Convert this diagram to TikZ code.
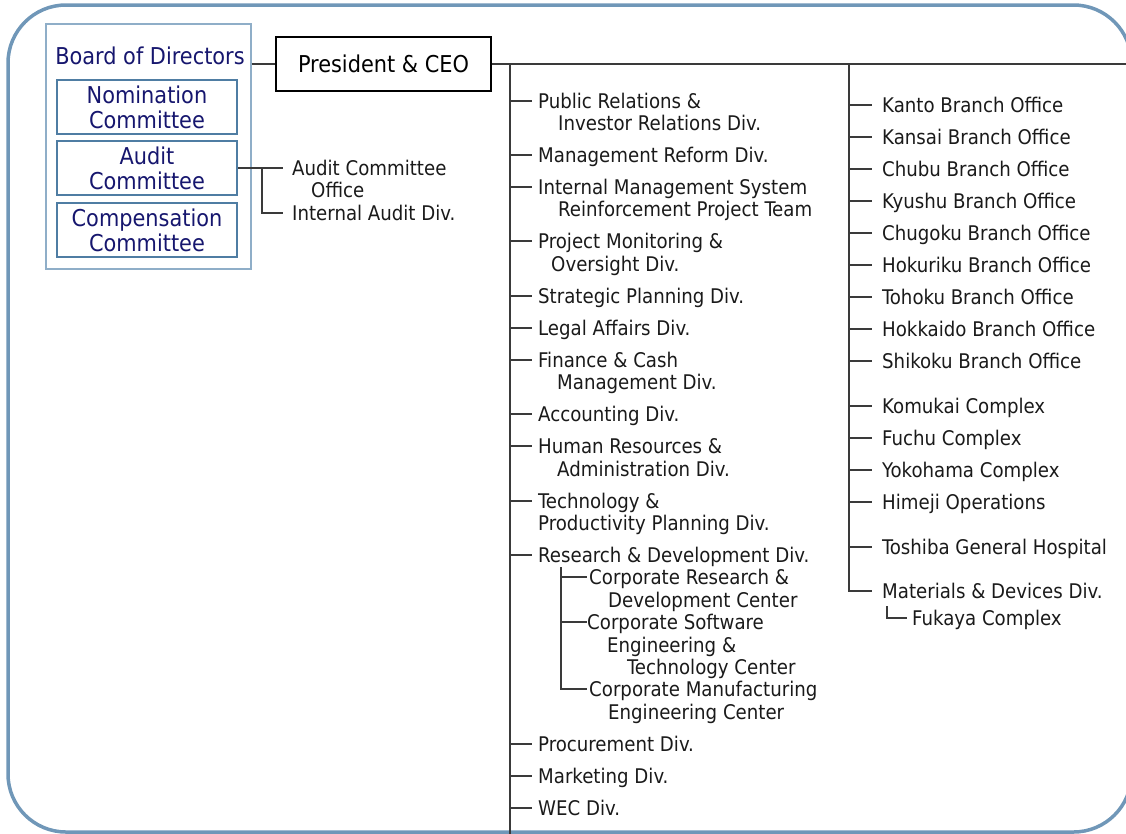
\documentclass[tikz,border=0pt]{standalone}
\usepackage{fontspec}
\setmainfont{DejaVu Sans Condensed}
\definecolor{cBorder}{HTML}{7097B8}
\definecolor{cOuter}{HTML}{8FAEC8}
\definecolor{cCbox}{HTML}{4F7DA3}
\definecolor{cNavy}{HTML}{16166E}
\definecolor{cTxt}{HTML}{1A1A1A}
\definecolor{cLink}{HTML}{3A3A3A}
\tikzset{
  itm/.style={anchor=west, inner sep=0pt, font=\fontsize{20.2}{22}\selectfont, text=cTxt, text height=14.7pt, text depth=0pt},
  ttl/.style={font=\fontsize{23.2}{25}\selectfont, text=cNavy},
  lnk/.style={draw=cLink, line width=1.4pt},
  cbox/.style={draw=cCbox, line width=2pt, minimum width=180pt, minimum height=54pt, inner sep=0pt, align=center, ttl},
}
\begin{document}
\begin{tikzpicture}[x=1pt,y=-1pt]
\useasboundingbox (0,0) rectangle (1126,833);
% outer border
\draw[cBorder, line width=3.5pt, rounded corners=58pt] (8,5) rectangle (1131.5,832);

% board
\node[draw=cOuter, line width=1.3pt, minimum width=205pt, minimum height=245pt, inner sep=0pt] (board) at (148.5,146.5) {};
\node[ttl, inner sep=0pt] (bod) at (150,56) {Board of Directors};
\node[cbox] (nom) at (147,107) {Nomination\\Committee};
\node[cbox] (aud) at (147,168) {Audit\\Committee};
\node[cbox] (com) at (147,230) {Compensation\\Committee};

% CEO
\node[draw=black, line width=2pt, minimum width=215pt, minimum height=54pt, inner sep=0pt, font=\fontsize{23.2}{25}\selectfont] (ceo) at (383.5,64) {President \& CEO};
\draw[lnk] (board.east |- ceo.west) -- (ceo.west);
\coordinate (hend) at (1135,64);
\draw[lnk] (ceo.east) -- (hend);

% audit links
\node[itm] (aco) at (292,168) {Audit Committee};
\node[itm] (aco2) at (311,190) {Office};
\node[itm] (iad) at (292,213) {Internal Audit Div.};
\coordinate (aj) at (262,168);
\draw[lnk, line width=1.1pt] (aud.east |- aco.west) -- ([xshift=-9pt]aco.west);
\draw[lnk, line width=1.1pt] (aj) -- (aj |- iad.west) -- ([xshift=-9pt]iad.west);

% middle column
\coordinate (t1) at (510,64);
\coordinate (t1b) at (510,840);
\draw[lnk] (t1) -- (t1b);
\node[itm] (pr1) at (538,101) {Public Relations \&};
\node[itm] (pr2) at (558,123) {Investor Relations Div.};
\node[itm] (mr) at (538,155) {Management Reform Div.};
\node[itm] (im1) at (538,187) {Internal Management System};
\node[itm] (im2) at (558,209) {Reinforcement Project Team};
\node[itm] (pm1) at (538,241) {Project Monitoring \&};
\node[itm] (pm2) at (551,264) {Oversight Div.};
\node[itm] (sp) at (538,296) {Strategic Planning Div.};
\node[itm] (la) at (538,328) {Legal Affairs Div.};
\node[itm] (fc1) at (538,360) {Finance \& Cash};
\node[itm] (fc2) at (557,382) {Management Div.};
\node[itm] (ac) at (538,414) {Accounting Div.};
\node[itm] (hr1) at (538,446) {Human Resources \&};
\node[itm] (hr2) at (557,469) {Administration Div.};
\node[itm] (tp1) at (538,501) {Technology \&};
\node[itm] (tp2) at (538,523) {Productivity Planning Div.};
\node[itm] (rd) at (538,555) {Research \& Development Div.};
\node[itm] (cr1) at (589,577) {Corporate Research \&};
\node[itm] (cr2) at (608,600) {Development Center};
\node[itm] (cs1) at (587,622) {Corporate Software};
\node[itm] (cs2) at (607,645) {Engineering \&};
\node[itm] (cs3) at (627,667) {Technology Center};
\node[itm] (cm1) at (589,689) {Corporate Manufacturing};
\node[itm] (cm2) at (608,712) {Engineering Center};
\node[itm] (pc) at (538,744) {Procurement Div.};
\node[itm] (mk) at (538,776) {Marketing Div.};
\node[itm] (wec) at (538,808) {WEC Div.};
\foreach \n in {pr1,mr,im1,pm1,sp,la,fc1,ac,hr1,tp1,rd,pc,mk,wec}
  \draw[lnk] (t1 |- \n.west) -- ([xshift=-6pt]\n.west);
% R&D sub-tree
\coordinate (s1) at (561,567);
\draw[lnk] (s1) -- (s1 |- cm1.west) -- ([xshift=-2pt]cm1.west);
\draw[lnk] (s1 |- cr1.west) -- ([xshift=-2pt]cr1.west);
\draw[lnk] (s1 |- cs1.west) -- ([xshift=-0.5pt]cs1.west);

% right column
\coordinate (t2) at (849,64);
\node[itm] (ka) at (882,105) {Kanto Branch Office};
\node[itm] (ks) at (882,137) {Kansai Branch Office};
\node[itm] (cb) at (882,169) {Chubu Branch Office};
\node[itm] (ky) at (882,201) {Kyushu Branch Office};
\node[itm] (cg) at (882,233) {Chugoku Branch Office};
\node[itm] (hk) at (882,265) {Hokuriku Branch Office};
\node[itm] (th) at (882,297) {Tohoku Branch Office};
\node[itm] (hd) at (882,329) {Hokkaido Branch Office};
\node[itm] (sk) at (882,361) {Shikoku Branch Office};
\node[itm] (km) at (882,406) {Komukai Complex};
\node[itm] (fu) at (882,438) {Fuchu Complex};
\node[itm] (yk) at (882,470) {Yokohama Complex};
\node[itm] (hm) at (882,502) {Himeji Operations};
\node[itm] (tg) at (882,547) {Toshiba General Hospital};
\node[itm] (md) at (882,591) {Materials \& Devices Div.};
\node[itm] (fk) at (912,618) {Fukaya Complex};
\draw[lnk] (t2) -- (t2 |- md.west) -- ([xshift=-10pt]md.west);
\foreach \n in {ka,ks,cb,ky,cg,hk,th,hd,sk,km,fu,yk,hm,tg}
  \draw[lnk] (t2 |- \n.west) -- ([xshift=-10pt]\n.west);
\coordinate (fj) at (887,606);
\draw[lnk, line width=1.1pt] (fj) -- (fj |- fk.west) -- ([xshift=-5pt]fk.west);
\end{tikzpicture}
\end{document}
